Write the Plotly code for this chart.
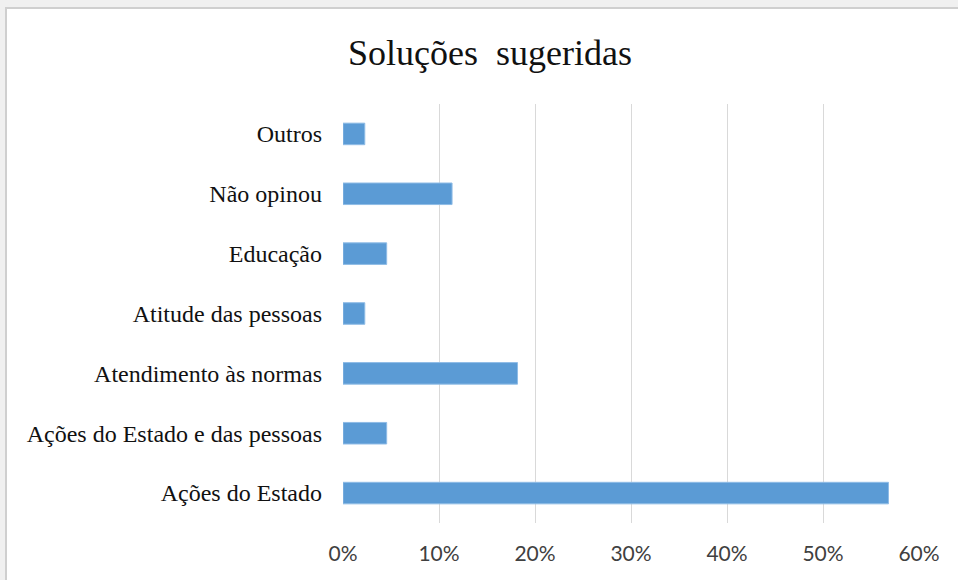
import plotly.graph_objects as go

categories = ["Ações do Estado", "Ações do Estado e das pessoas", "Atendimento às normas",
              "Atitude das pessoas", "Educação", "Não opinou", "Outros"]
values = [0.5682, 0.0455, 0.1818, 0.0227, 0.0455, 0.1136, 0.0227]
tick_vals = [0, 0.1, 0.2, 0.3, 0.4, 0.5, 0.6]
tick_text = ["0%", "10%", "20%", "30%", "40%", "50%", "60%"]

L, R, T, B = 343, 39, 104, 57
W, H = 958, 580
pw, ph = W - L - R, H - T - B

fig = go.Figure(go.Bar(
    x=values, y=categories, orientation="h",
    marker=dict(color="#5B9BD5", line=dict(color="#8fbce6", width=1)),
    width=0.36,
))

fig.update_layout(
    width=W, height=H,
    margin=dict(l=L, r=R, t=T, b=B, pad=0),
    paper_bgcolor="#f0f0f0",
    plot_bgcolor="rgba(0,0,0,0)",
    showlegend=False,
    title=dict(text="Soluções  sugeridas", x=490 / W, xanchor="center",
               y=1 - 52 / H, yanchor="middle",
               font=dict(family="Liberation Serif", size=36, color="#111111")),
    xaxis=dict(range=[0, 0.6], tickvals=tick_vals, ticktext=tick_text,
               showgrid=True, gridcolor="#d9d9d9", gridwidth=1,
               zeroline=False, showline=False, ticks="",
               ticklabelstandoff=16,
               tickfont=dict(family="Lato", size=21, color="#404040")),
    yaxis=dict(categoryorder="array", categoryarray=categories, range=[-0.5, 6.5],
               showgrid=False, zeroline=False, showline=False, ticks="",
               ticklabelstandoff=20,
               tickfont=dict(family="Liberation Serif", size=24, color="#111111")),
    shapes=[dict(type="rect", xref="paper", yref="paper",
                 x0=(6 - L) / pw, x1=2.0, y0=-1.0, y1=(H - B - 8) / ph,
                 fillcolor="white", line=dict(color="#cfcfcf", width=2),
                 layer="below")],
)

fig.write_html("out.html", config={"displayModeBar": False},
               post_script="document.body.style.margin='0';")
